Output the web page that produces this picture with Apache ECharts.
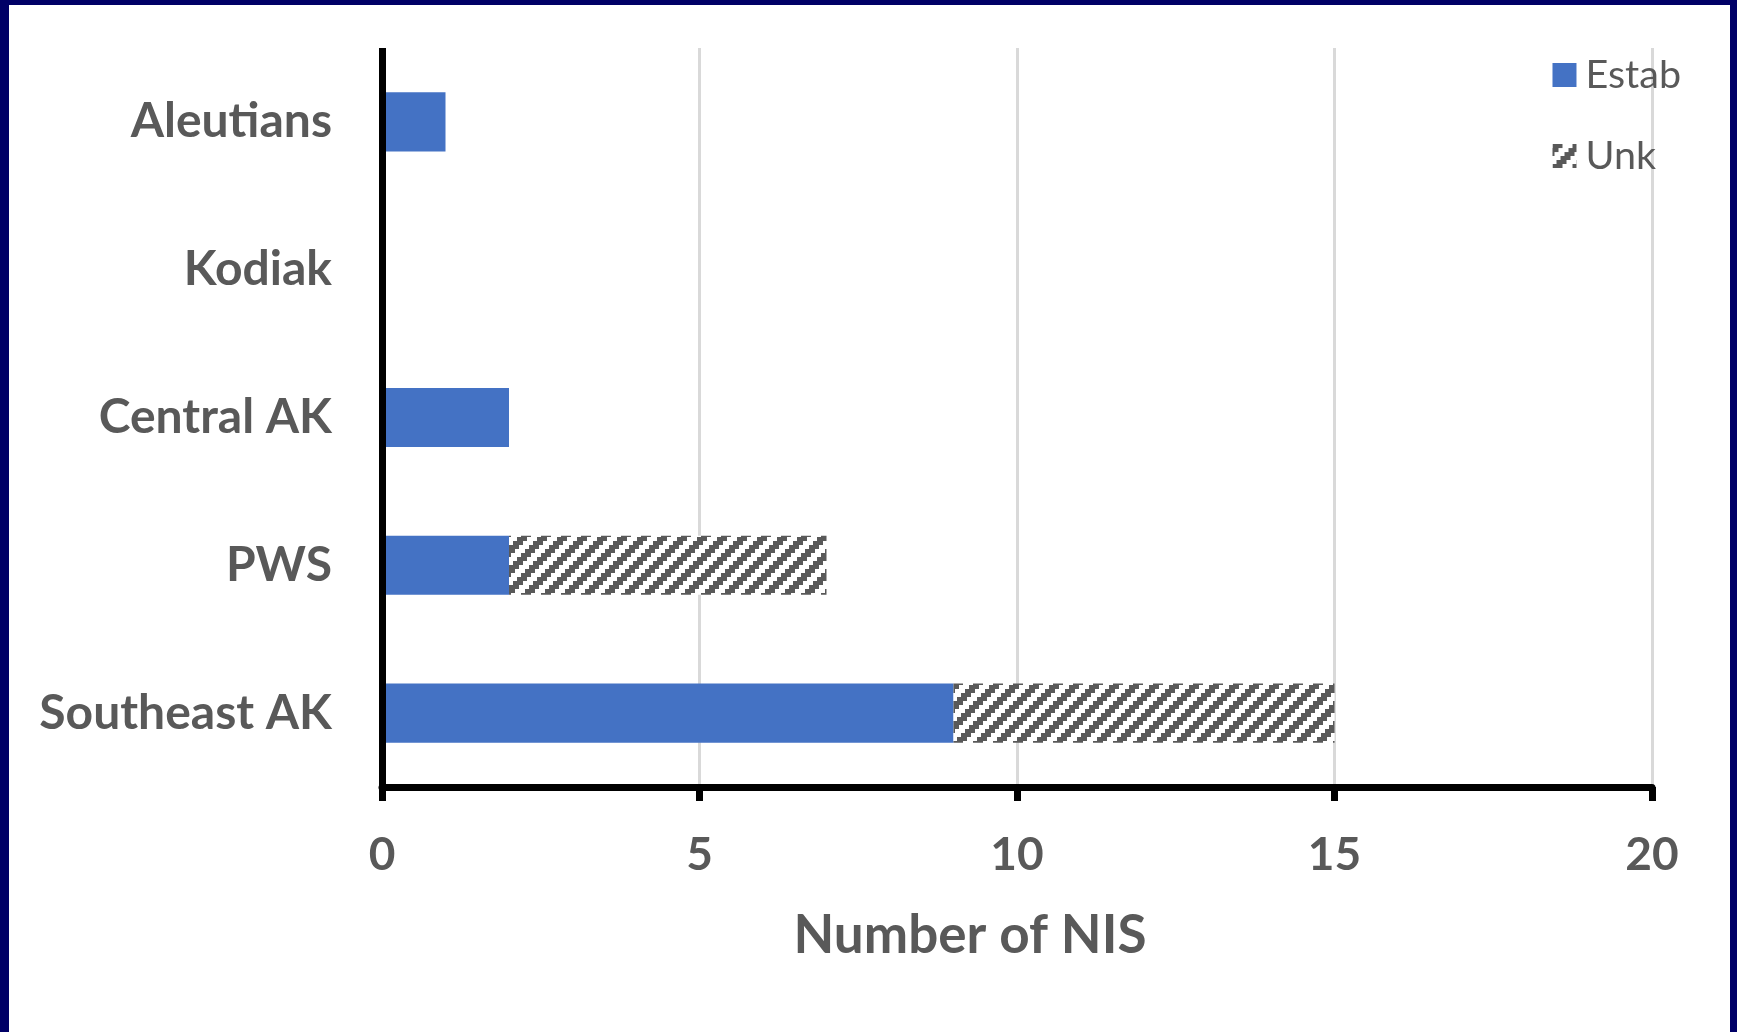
<!DOCTYPE html>
<html>
<head>
<meta charset="utf-8">
<script src="https://cdn.jsdelivr.net/npm/echarts@6/dist/echarts.min.js"></script>
<style>
    html, body {
        margin: 0;
        padding: 0;
        background: #000066;
    }
    #frame {
        position: absolute;
        left: 9px;
        top: 5px;
        width: 1721px;
        height: 1027px;
        background: #ffffff;
    }
    #chart {
        width: 100%;
        height: 100%;
    }
</style>
</head>
<body>
<div id="frame"><div id="chart"></div></div>
<script>
// regions, listed top to bottom as in the chart
const regions = ['Aleutians', 'Kodiak', 'Central AK', 'PWS', 'Southeast AK'];
const estab = [1, 0, 2, 2, 9];
const unk = [0, 0, 0, 5, 6];
const xTicks = [0, 5, 10, 15, 20];

// stair-stepped upward diagonal hatch, like the office pattern fill
function makeHatch() {
    const size = 20;
    const c = document.createElement('canvas');
    c.width = size;
    c.height = size;
    const ctx = c.getContext('2d');
    ctx.fillStyle = '#ffffff';
    ctx.fillRect(0, 0, size, size);
    ctx.fillStyle = '#595959';
    for (let r = 0; r < 5; r++) {
        let start = (size - r * 4) % size;
        for (let k = -1; k < 2; k++) {
            ctx.fillRect(start + k * size, r * 4, 10, 4);
        }
    }
    return c;
}

const chart = echarts.init(document.getElementById('chart'));
const textColor = '#595959';
const font = 'Lato';

let option = {
    animation: false,
    grid: {
        left: 373,
        top: 43,
        width: 1270,
        height: 739
    },
    legend: {
        right: 44,
        top: 45,
        orient: 'vertical',
        icon: 'rect',
        itemWidth: 24,
        itemHeight: 24,
        itemGap: 41,
        textStyle: {
            color: textColor,
            fontFamily: font,
            fontSize: 39.5,
            padding: [0, 0, 0, 4]
        },
        data: ['Estab', 'Unk']
    },
    xAxis: {
        type: 'value',
        min: xTicks[0],
        max: xTicks[xTicks.length - 1],
        interval: 5,
        name: 'Number of NIS',
        nameLocation: 'middle',
        nameGap: 122,
        nameTextStyle: {
            color: textColor,
            fontFamily: font,
            fontWeight: 'bold',
            fontSize: 53,
            padding: [0, 94, 0, 0]
        },
        axisLine: {
            show: true,
            lineStyle: { color: '#000000', width: 7 }
        },
        axisTick: {
            show: true,
            length: 14,
            lineStyle: { color: '#000000', width: 7 }
        },
        axisLabel: {
            margin: 45,
            color: textColor,
            fontFamily: font,
            fontWeight: 'bold',
            fontSize: 46
        },
        splitLine: {
            show: true,
            lineStyle: { color: '#d9d9d9', width: 3 }
        }
    },
    yAxis: {
        type: 'category',
        inverse: true,
        z: 3,
        data: regions,
        axisLine: {
            show: true,
            lineStyle: { color: '#000000', width: 7, cap: 'butt' }
        },
        axisTick: { show: false },
        axisLabel: {
            margin: 50,
            color: textColor,
            fontFamily: font,
            fontWeight: 'bold',
            fontSize: 48
        }
    },
    series: [
        {
            name: 'Estab',
            type: 'bar',
            stack: 'nis',
            barCategoryGap: '60%',
            itemStyle: { color: '#4472c4' },
            data: estab
        },
        {
            name: 'Unk',
            type: 'bar',
            stack: 'nis',
            barCategoryGap: '60%',
            itemStyle: {
                color: { image: makeHatch(), repeat: 'repeat' }
            },
            data: unk
        }
    ]
};
chart.setOption(option);
</script>
</body>
</html>
